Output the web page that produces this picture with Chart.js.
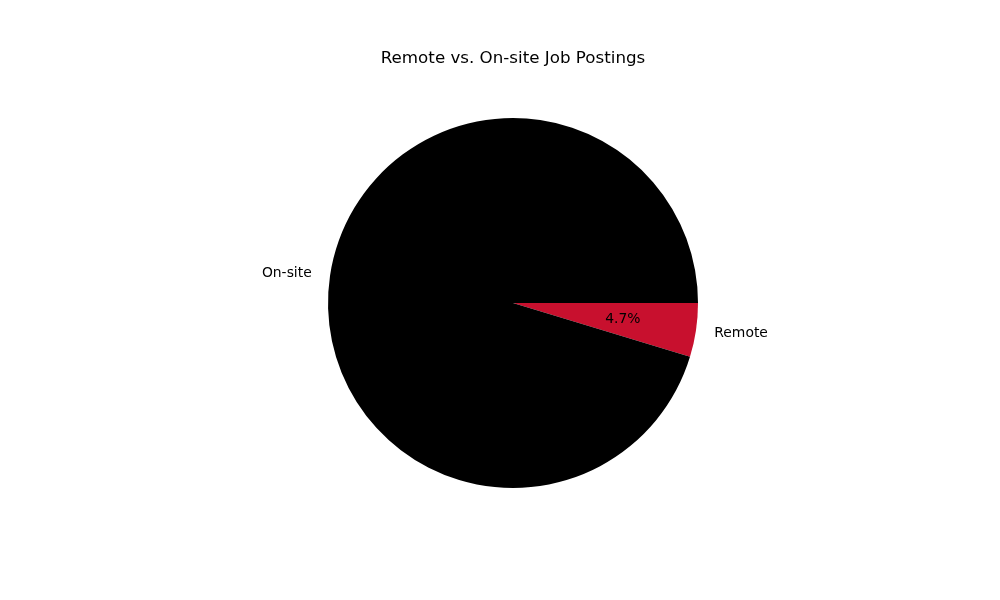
<!DOCTYPE html>
<html><head><meta charset="utf-8">
<script src="https://cdn.jsdelivr.net/npm/chart.js@4"></script>
<style>html,body{margin:0;padding:0;background:#fff}#wrap{width:1000px;height:600px}</style>
</head><body><div id="wrap"><canvas id="c" width="1000" height="600"></canvas></div>
<script>
const titleText = "Remote vs. On-site Job Postings";
const categories = ["Remote", "On-site"];
const values = [4.7, 95.3];
const colors = ["#c8102e", "#000000"];

const labelPlugin = {
  id: 'pieLabels',
  afterDraw(chart) {
    const ctx = chart.ctx;
    const ca = chart.chartArea;
    ctx.save();
    ctx.fillStyle = '#000';
    ctx.font = '16.7px "DejaVu Sans"';
    ctx.textAlign = 'center';
    ctx.textBaseline = 'middle';
    ctx.fillText(titleText, (ca.left + ca.right) / 2, 59);
    const meta = chart.getDatasetMeta(0);
    const total = values.reduce((a, b) => a + b, 0);
    ctx.font = '13.9px "DejaVu Sans"';
    meta.data.forEach((arc, i) => {
      const p = arc.getProps(['x', 'y', 'startAngle', 'endAngle', 'outerRadius'], true);
      const mid = (p.startAngle + p.endAngle) / 2;
      const c = Math.cos(mid), s = Math.sin(mid);
      const lx = p.x + 1.1 * p.outerRadius * c;
      const ly = p.y + 1.1 * p.outerRadius * s;
      ctx.textAlign = c >= 0 ? 'left' : 'right';
      ctx.fillText(categories[i], lx, ly);
      ctx.textAlign = 'center';
      ctx.fillText((values[i] / total * 100).toFixed(1) + '%', p.x + 0.6 * p.outerRadius * c, p.y + 0.6 * p.outerRadius * s);
    });
    ctx.restore();
  }
};

new Chart(document.getElementById('c'), {
  type: 'pie',
  data: { labels: categories, datasets: [{ data: values, backgroundColor: colors, borderWidth: 0 }] },
  options: {
    responsive: false,
    animation: false,
    rotation: 90,
    layout: { padding: { left: 328, right: 302, top: 118, bottom: 112 } },
    plugins: { legend: { display: false }, title: { display: false }, tooltip: { enabled: false } }
  },
  plugins: [labelPlugin]
});
</script></body></html>
